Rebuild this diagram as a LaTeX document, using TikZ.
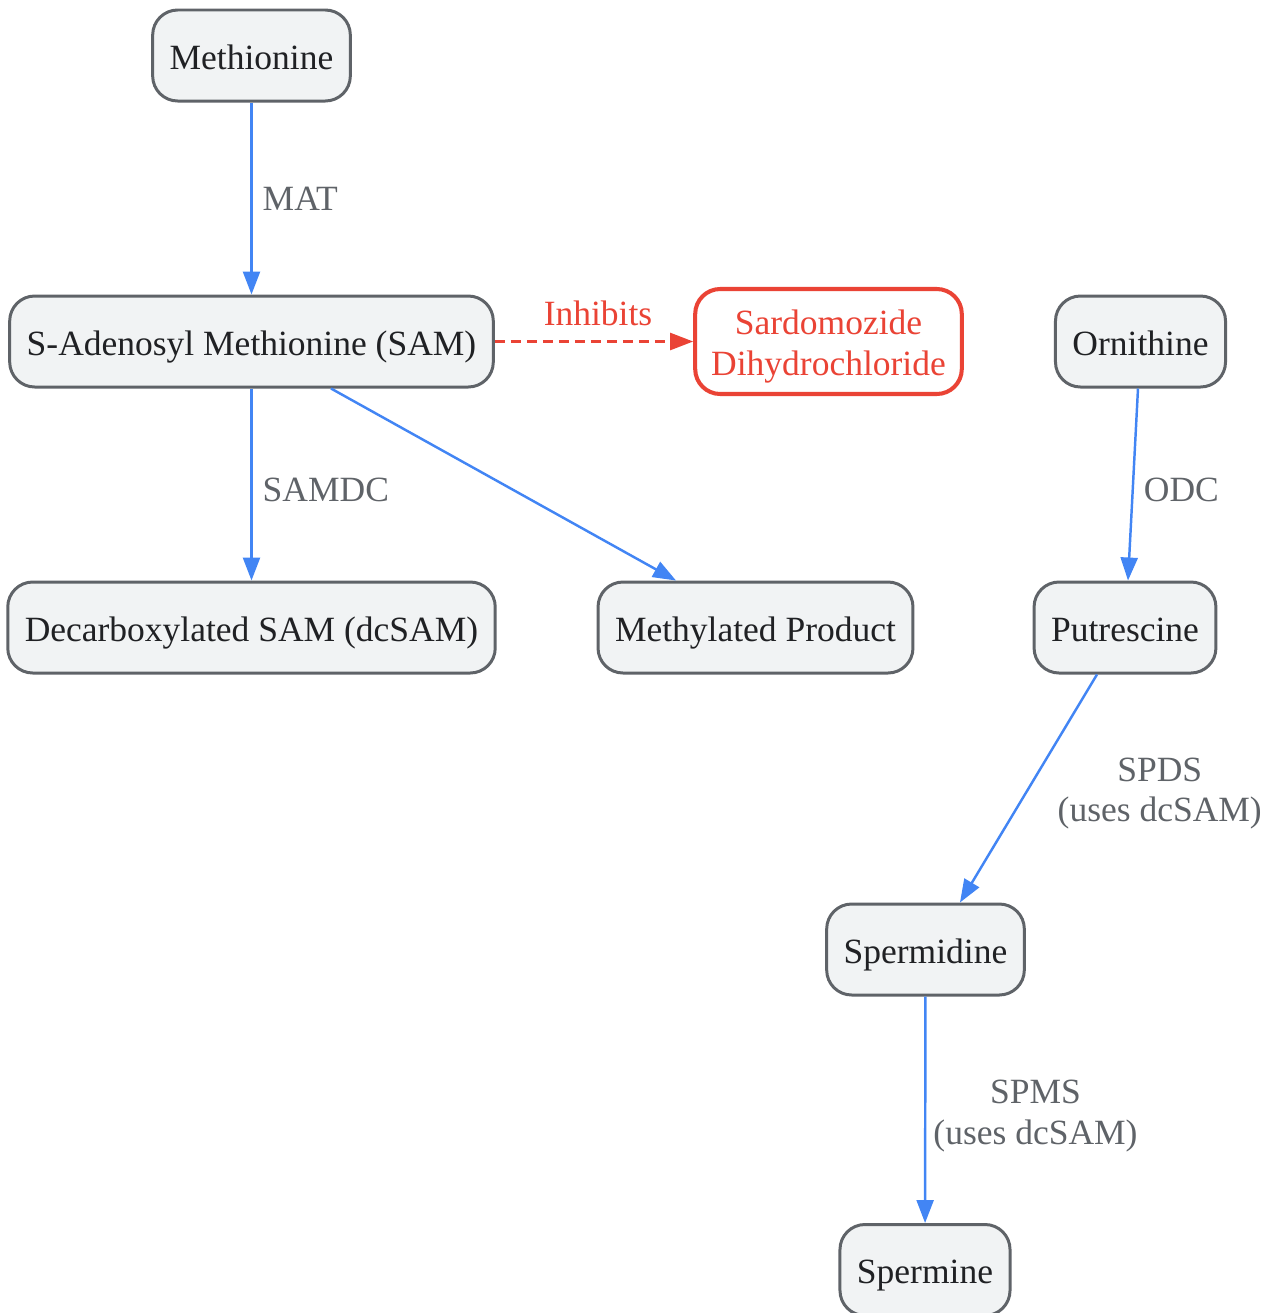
\documentclass[tikz,border=0pt]{standalone}
\usepackage{fontspec}
\setmainfont{Liberation Serif}
\usetikzlibrary{arrows.meta}

\definecolor{boxline}{HTML}{5F6368}
\definecolor{boxfill}{HTML}{F1F3F4}
\definecolor{boxtext}{HTML}{202124}
\definecolor{rxnblue}{HTML}{4285F4}
\definecolor{inhred}{HTML}{EA4335}
\definecolor{lblgray}{HTML}{5F6368}

\tikzset{
  mol/.style={rectangle, rounded corners=0.5cm, draw=boxline, line width=1.7pt,
    fill=boxfill, text=boxtext, minimum height=1.82cm, inner xsep=0.34cm,
    text height=0.68cm, text depth=0.14cm,
    font=\fontsize{20.2}{23.2}\selectfont},
  drug/.style={rectangle, rounded corners=0.5cm, draw=inhred, fill=white, text=inhred,
    line width=2.3pt, minimum height=2.1cm, inner xsep=0.32cm,
    font=\fontsize{20.2}{23.2}\selectfont},
  rxn/.style={draw=rxnblue, line width=1.4pt, -{Triangle[length=0.46cm, width=0.34cm]}},
  inh/.style={rxn, draw=inhred, dash pattern=on 0.2cm off 0.12cm},
  lbl/.style={text=lblgray, align=center, inner sep=0.2cm,
    font=\fontsize{20.2}{23.2}\selectfont}
}

\begin{document}
\begin{tikzpicture}
    \useasboundingbox (0, 0) rectangle (25.42, -26.26);

    % ノードを置く
    \node[mol] (Met) at (5.03, -1.11) {Methionine};
    \node[mol] (SAM) at (5.03, -6.83) {S-Adenosyl Methionine (SAM)};
    \node[drug] (Sard) at (16.57, -6.83)
      {\raisebox{-0.1cm}[\height][\depth]{\begin{tabular}{@{}c@{}}Sardomozide\\Dihydrochloride\end{tabular}}};
    \node[mol] (Orn) at (22.81, -6.83) {Ornithine};
    \node[mol] (dcSAM) at (5.03, -12.55) {Decarboxylated SAM (dcSAM)};
    \node[mol] (Methyl) at (15.11, -12.55) {Methylated Product};
    \node[mol] (Put) at (22.50, -12.55) {Putrescine};
    \node[mol] (Spd) at (18.51, -18.99) {Spermidine};
    \node[mol] (Spm) at (18.50, -25.40) {Spermine};

    % 矢印を引く
    \draw[rxn] (Met.south) -- node[lbl, right] {MAT} (SAM.north);
    \draw[rxn] (SAM.south) -- node[lbl, right, pos=0.53] {SAMDC} (dcSAM.north);
    \draw[rxn] ([xshift=1.59cm]SAM.south) -- ([xshift=-1.59cm]Methyl.north);
    \draw[inh] (SAM.east) -- node[lbl, above, inner sep=0.28cm, xshift=0.08cm, text=inhred] {Inhibits} (Sard.west);
    \draw[rxn] ([xshift=-0.05cm]Orn.south) -- node[lbl, right, pos=0.53] {ODC} ([xshift=0.06cm]Put.north);
    \draw[rxn] ([xshift=-0.56cm]Put.south) -- node[lbl, right, xshift=0.36cm, yshift=-0.1cm] {SPDS\\(uses dcSAM)} ([xshift=0.69cm]Spd.north);
    \draw[rxn] (Spd) -- node[lbl, right, inner sep=0.14cm, yshift=-0.12cm] {SPMS\\(uses dcSAM)} (Spm);
\end{tikzpicture}
\end{document}
